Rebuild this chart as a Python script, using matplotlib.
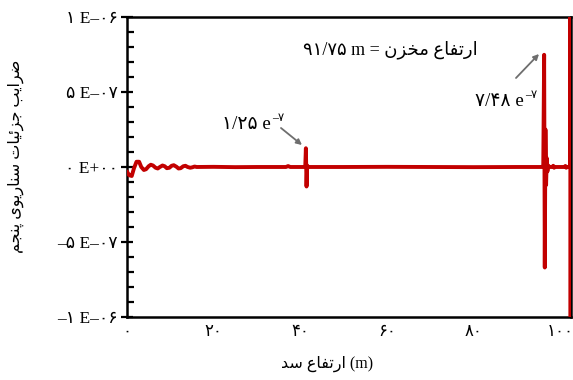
import matplotlib
matplotlib.use("Agg")
import matplotlib.pyplot as plt
from matplotlib.ticker import MultipleLocator, FixedLocator

# ---------------- data ----------------
x_vals = [0, 0.5, 1.1, 1.6, 2.2, 2.8, 3.3, 3.9, 4.4, 5.0, 5.5, 6.0, 6.6, 7.1, 7.6,
          8.2, 8.7, 9.2, 9.8, 10.3, 10.8, 11.4, 11.9, 12.4, 13.0, 13.5, 14.0, 14.6,
          15.1, 15.6, 16.1, 20, 25, 30, 36.7, 37.2, 37.7, 41.15, 41.3, 41.45, 41.6,
          41.75, 50, 60, 70, 80, 90, 95.9, 96.1, 96.3, 96.45, 96.6, 96.75, 96.9,
          97.05, 97.25, 97.5, 98.2, 98.4, 98.6, 98.8, 101.0, 101.2, 101.4, 101.6,
          102.3, 102.35, 102.35]
y_vals = [-0.3, -0.55, -0.6, -0.1, 0.35, 0.35, 0.0, -0.2, -0.15, 0.05, 0.15, 0.1,
          -0.05, -0.1, 0.0, 0.1, 0.05, -0.08, -0.05, 0.08, 0.12, 0.02, -0.1, -0.08,
          0.05, 0.08, 0.0, -0.05, -0.02, 0.03, 0.0, 0.01, -0.01, 0.0, 0.0, 0.06,
          0.0, 0.0, 1.25, -1.3, 0.1, 0.0, 0.0, 0.01, 0.0, -0.01, 0.0, 0.0, 0.1,
          7.48, -6.7, 2.5, -1.2, 0.6, -0.3, 0.1, 0.0, 0.0, 0.08, -0.05, 0.0,
          0.0, 0.07, -0.05, 0.0, 0.0, 15.0, -15.0]   # units of 1e-7
y_scale = 1e-7

y_ticks = [1e-6, 5e-7, 0, -5e-7, -1e-6]
y_tick_labels = ["۱ E–۰۶", "۵ E–۰۷", "۰ E+۰۰", "–۵ E–۰۷", "–۱ E–۰۶"]
x_ticks = [0, 20, 40, 60, 80, 100]
x_tick_labels = ["۰", "۲۰", "۴۰", "۶۰", "۸۰", "۱۰۰"]

ylabel_text = "ضرایب جزئیات سناریوی پنجم"
xlabel_text = "ارتفاع سد"
xlabel_unit = "(m)"
res_text = "ارتفاع مخزن"
res_value = "۹۱/۷۵ m"
peak1 = (41.3, 1.25, "۱/۲۵ e", "–۷")
peak2 = (96.3, 7.48, "۷/۴۸ e", "–۷")

# ---------------- simple Persian shaping ----------------
FORMS = {
    'ا': ('\uFE8D', '\uFE8E', None, None),
    'ب': ('\uFE8F', '\uFE90', '\uFE91', '\uFE92'),
    'پ': ('\uFB56', '\uFB57', '\uFB58', '\uFB59'),
    'ت': ('\uFE95', '\uFE96', '\uFE97', '\uFE98'),
    'ج': ('\uFE9D', '\uFE9E', '\uFE9F', '\uFEA0'),
    'خ': ('\uFEA5', '\uFEA6', '\uFEA7', '\uFEA8'),
    'د': ('\uFEA9', '\uFEAA', None, None),
    'ر': ('\uFEAD', '\uFEAE', None, None),
    'ز': ('\uFEAF', '\uFEB0', None, None),
    'س': ('\uFEB1', '\uFEB2', '\uFEB3', '\uFEB4'),
    'ض': ('\uFEBD', '\uFEBE', '\uFEBF', '\uFEC0'),
    'ع': ('\uFEC9', '\uFECA', '\uFECB', '\uFECC'),
    'ف': ('\uFED1', '\uFED2', '\uFED3', '\uFED4'),
    'م': ('\uFEE1', '\uFEE2', '\uFEE3', '\uFEE4'),
    'ن': ('\uFEE5', '\uFEE6', '\uFEE7', '\uFEE8'),
    'و': ('\uFEED', '\uFEEE', None, None),
    'ی': ('\uFBFC', '\uFBFD', '\uFBFE', '\uFBFF'),
    'ئ': ('\uFE89', '\uFE8A', '\uFE8B', '\uFE8C'),
}


def joins_next(c):
    return c in FORMS and FORMS[c][2] is not None


def shape(text):
    out = []
    for i, c in enumerate(text):
        if c not in FORMS:
            out.append(c)
            continue
        prev = text[i - 1] if i > 0 else ''
        nxt = text[i + 1] if i + 1 < len(text) else ''
        jp = joins_next(prev)
        jn = joins_next(c) and nxt in FORMS
        iso, fin, ini, med = FORMS[c]
        if jp and jn:
            out.append(med)
        elif jp:
            out.append(fin)
        elif jn:
            out.append(ini)
        else:
            out.append(iso)
    return ''.join(out)


def visual(text):
    return shape(text)[::-1]


# ---------------- figure ----------------
fams = ['Liberation Serif', 'DejaVu Sans']
fig = plt.figure(figsize=(5.73, 3.80), dpi=100)
ax = fig.add_axes([0.2216, 0.1658, 0.7749, 0.7895])

XMAX = 102.5
ys = [v * y_scale for v in y_vals]
ax.plot(x_vals, ys, color='#c20000', lw=2.8, solid_joinstyle='round',
        solid_capstyle='round', zorder=3)

ax.set_xlim(0, XMAX)
ax.set_ylim(-1e-6, 1e-6)

ax.yaxis.set_major_locator(FixedLocator(y_ticks))
ax.set_yticklabels(y_tick_labels, family=fams, fontsize=12.5)
ax.yaxis.set_minor_locator(MultipleLocator(1e-7))
ax.tick_params(axis='y', which='major', direction='inout', length=9, width=1.6, pad=2)
ax.tick_params(axis='y', which='minor', direction='in', length=5, width=1.6)

ax.xaxis.set_major_locator(FixedLocator(x_ticks))
ax.set_xticklabels(x_tick_labels, family=fams, fontsize=12)
ax.tick_params(axis='x', which='both', length=0, pad=5)

for s in ax.spines.values():
    s.set_linewidth(1.8)
    s.set_color('black')

ax.set_ylabel(visual(ylabel_text), family=fams, fontsize=11.5)
ax.yaxis.set_label_coords(-0.232, 0.535)
ax.set_xlabel(visual(xlabel_text) + ' ' + xlabel_unit, family=fams, fontsize=11.5)
ax.xaxis.set_label_coords(0.45, -0.13)


def px_to_x(px):
    return (px - 127) / 444.0 * XMAX


def py_to_y(py):
    return (167 - py) / 150.0 * 1e-6


res_txt = res_value + ' = ' + visual(res_text)
ax.text(px_to_x(390), py_to_y(50), res_txt, family=fams, fontsize=13,
        ha='center', va='center')

# peak annotations: (peak, label right edge px, label centre y px, arrow start px, arrow end px)
for (px, py, lab, sup), lab_r, lab_y, a0, a1 in [
        (peak1, 271, 125, (281, 128), (302, 145)),
        (peak2, 524, 102, (516, 78), (539, 54))]:
    ax.annotate('', xy=(px_to_x(a1[0]), py_to_y(a1[1])),
                xytext=(px_to_x(a0[0]), py_to_y(a0[1])),
                arrowprops=dict(arrowstyle='-|>', color='#6e6e6e', lw=1.3,
                                mutation_scale=8, shrinkA=0, shrinkB=0))
    ax.text(px_to_x(lab_r), py_to_y(lab_y), lab, family=fams, fontsize=13.5,
            ha='right', va='center')
    ax.annotate(sup, xy=(px_to_x(lab_r), py_to_y(lab_y)), xytext=(0.5, 5),
                textcoords='offset points', family=fams, fontsize=8.5,
                ha='left', va='center')

fig.savefig('out.png', dpi=100)
